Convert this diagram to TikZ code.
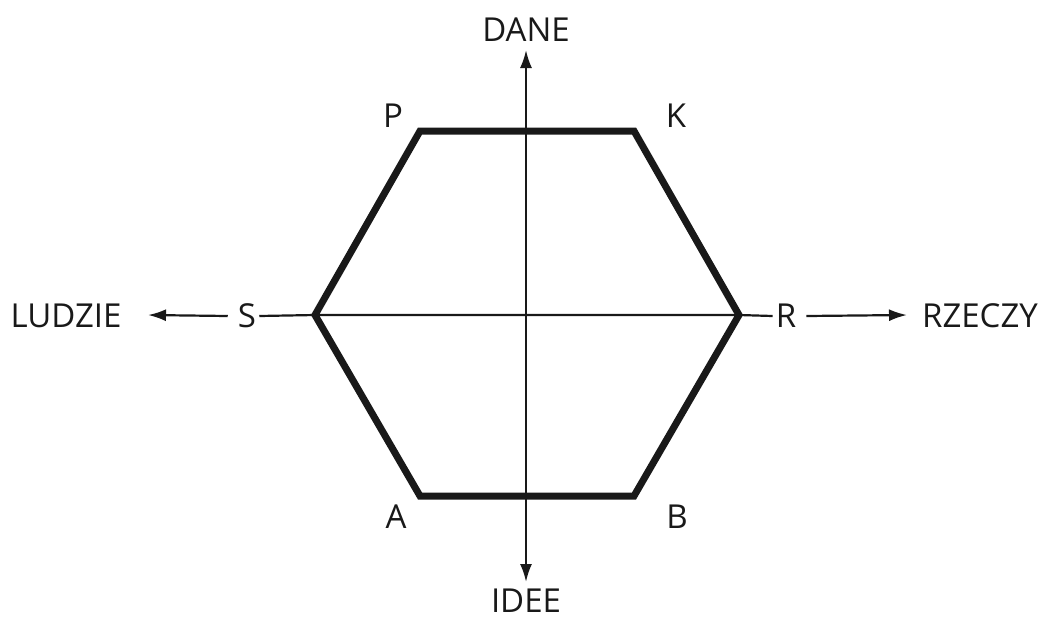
\documentclass[tikz,border=0pt]{standalone}
\usepackage{fontspec}
\setmainfont{Open Sans}
\usetikzlibrary{arrows.meta}
\begin{document}
\begin{tikzpicture}[x=1pt,y=-1pt,
  lbl/.style={font=\fontsize{33}{33}\selectfont, inner sep=0pt, text=black!90},
  hexline/.style={line width=7pt, line join=miter, draw=black!90},
  axis/.style={line width=2.2pt, draw=black!90},
  arr/.style={axis, -{Latex[length=18pt,width=12pt]}}]
\useasboundingbox (0,0) rectangle (1048,616);
% hexagon corners
\coordinate (hP) at (420,131);
\coordinate (hK) at (634,131);
\coordinate (hR) at (739,315);
\coordinate (hB) at (634,496);
\coordinate (hA) at (420,496);
\coordinate (hS) at (315,315);
\draw[hexline] (hP) -- (hK) -- (hR) -- (hB) -- (hA) -- (hS) -- cycle;
% labels
\node[lbl] (dane) at (526,30) {DANE};
\node[lbl] (idee) at (526,601) {IDEE};
\node[lbl] (ludzie) at (66,316) {LUDZIE};
\node[lbl] (rzeczy) at (980,316) {RZECZY};
\node[lbl] (s) at (247,316) {S};
\node[lbl] (r) at (786,316) {R};
\node[lbl] (p) at (393,116) {P};
\node[lbl] (k) at (676,116) {K};
\node[lbl] (a) at (396,517) {A};
\node[lbl] (b) at (677,517) {B};
% axes
\coordinate (top) at (526,50);
\coordinate (bot) at (526,582);
\draw[arr] (526,315) -- (top);
\draw[arr] (526,315) -- (bot);
\draw[axis] ([xshift=3pt]s.east) -- (hS) -- (hR) -- ([xshift=-3pt]r.west);
\coordinate (lt) at (148,315);
\coordinate (rt) at (907,315);
\draw[arr] ([xshift=-10pt]s.west) -- (lt);
\draw[arr] ([xshift=10pt]r.east) -- (rt);
\end{tikzpicture}
\end{document}
